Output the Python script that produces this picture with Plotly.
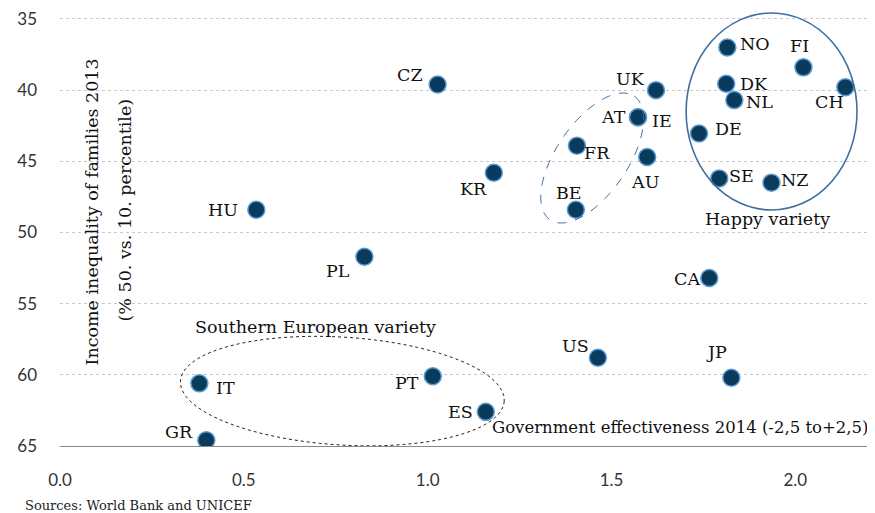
import numpy as np
import plotly.graph_objects as go

# dados
countries = ["NO", "FI", "CH", "DK", "NL", "DE", "SE", "NZ", "UK", "AT", "IE", "AU",
             "FR", "BE", "CZ", "KR", "HU", "PL", "CA", "US", "JP", "IT", "PT", "ES", "GR"]
gov_effectiveness = [1.815, 2.022, 2.136, 1.812, 1.834, 1.738, 1.793, 1.935, 1.621, 1.572,
                     1.572, 1.597, 1.406, 1.403, 1.027, 1.18, 0.534, 0.828, 1.766, 1.463,
                     1.826, 0.379, 1.014, 1.158, 0.398]
income_inequality = [37.0, 38.4, 39.8, 39.55, 40.7, 43.05, 46.2, 46.5, 40.0, 41.9,
                     41.9, 44.7, 43.9, 48.4, 39.6, 45.8, 48.4, 51.7, 53.2, 58.8,
                     60.2, 60.6, 60.1, 62.6, 64.6]
x_ticks = [0.0, 0.5, 1.0, 1.5, 2.0]
y_ticks = [35, 40, 45, 50, 55, 60, 65]

# deslocamento dos rótulos (px, x para a direita, y para cima)
label_offsets = {
    "NO": (28, 3), "FI": (-4, 21), "CH": (-16, -15), "DK": (28, 0), "NL": (25, -2),
    "DE": (29, 5), "SE": (22, 2), "NZ": (23, 3), "UK": (-26, 11), "AT": (-24, 0),
    "IE": (24, -4), "AU": (-2, -25), "FR": (20, -7), "BE": (-7, 17), "CZ": (-28, 9),
    "KR": (-20, -16), "HU": (-33, 0), "PL": (-26, -14), "CA": (-22, -1), "US": (-22, 12),
    "JP": (-15, 26), "IT": (26, -5), "PT": (-26, -7), "ES": (-25, 0), "GR": (-27, 8),
}

SERIF = "DejaVu Serif"
SANS = "Lato"
TXT = dict(family=SERIF, size=17.5, color="#111")

# a página tem 8px de margem no body: a figura começa em (8, 8)
PAGE_OFF = 8
WIN_W, WIN_H = 875, 513

# escala em pixels (da janela) para desenhar as elipses
X0_PX, X_SCALE = 59.5, 367.9
Y0_PX, Y_SCALE = 19, 14.23
PLOT_RIGHT, PLOT_BOTTOM = 870, 446
Y_TOP = 34.3


def dx(px):
    return (px - X0_PX) / X_SCALE


def dy(py):
    return 35 + (py - Y0_PX) / Y_SCALE


def ellipse_path(cx, cy, a, b, theta_deg, n=120):
    t = np.linspace(0, 2 * np.pi, n)
    th = np.radians(theta_deg)
    px = cx + a * np.cos(t) * np.cos(th) - b * np.sin(t) * np.sin(th)
    py = cy + a * np.cos(t) * np.sin(th) + b * np.sin(t) * np.cos(th)
    pts = [f"{dx(x):.4f},{dy(y):.4f}" for x, y in zip(px, py)]
    return "M" + " L".join(pts) + " Z"


fig = go.Figure()
fig.add_trace(go.Scatter(
    x=gov_effectiveness, y=income_inequality, mode="markers",
    marker=dict(size=17, color="#0a3b5c", line=dict(color="#5d9bd3", width=1.5)),
    hoverinfo="skip", showlegend=False,
))

for c, gx, iy in zip(countries, gov_effectiveness, income_inequality):
    ox, oy = label_offsets[c]
    fig.add_annotation(x=gx, y=iy, text=c, showarrow=False, xshift=ox, yshift=oy, font=TXT)

# faixa branca atrás do título do eixo y
fig.add_shape(type="rect", xref="x", yref="y", x0=dx(67), x1=dx(144), y0=Y_TOP, y1=62.5,
              fillcolor="white", line=dict(width=0), layer="below")

# elipses
fig.add_shape(type="circle", xref="x", yref="y", x0=dx(686), x1=dx(857), y0=dy(13), y1=dy(210),
              line=dict(color="#3f6f9f", width=1.6))
fig.add_shape(type="path", path=ellipse_path(592, 158, 74.8, 35.7, -55.7),
              line=dict(color="#3f6f9f", width=1, dash="dash"))
fig.add_shape(type="path", path=ellipse_path(342, 391, 162.3, 53.9, 3.57),
              line=dict(color="#222", width=1, dash="dot"))

fig.add_annotation(x=dx(767), y=dy(219), text="Happy variety", showarrow=False, font=TXT)
fig.add_annotation(x=dx(193), y=dy(327), text="Southern European variety", showarrow=False,
                   xanchor="left", font=TXT)
fig.add_annotation(x=1, xref="paper", xshift=1, y=dy(427), xanchor="right",
                   text="Government effectiveness 2014 (-2,5 to+2,5)", showarrow=False,
                   font=dict(family=SERIF, size=16.5, color="#111"))
fig.add_annotation(x=dx(92), y=dy(212), text="Income inequality of families 2013",
                   showarrow=False, textangle=-90, font=TXT)
fig.add_annotation(x=dx(125), y=dy(210), text="(% 50. vs. 10. percentile)",
                   showarrow=False, textangle=-90, font=TXT)
fig.add_annotation(x=0, xref="paper", xshift=22 - X0_PX, xanchor="left",
                   y=0, yref="paper", yanchor="top", yshift=-50,
                   text="Sources: World Bank and UNICEF", showarrow=False,
                   font=dict(family=SERIF, size=13, color="#222"))

fig.update_xaxes(range=[0, dx(PLOT_RIGHT)], tickvals=x_ticks, automargin=False,
                 ticktext=[f"{v:.1f}" for v in x_ticks], showgrid=False, zeroline=False,
                 showline=True, linecolor="#888", linewidth=1, ticks="",
                 ticklabelstandoff=19, ticklabeloverflow="allow",
                 tickfont=dict(family=SANS, size=17, color="#333"))
fig.update_yaxes(range=[65, Y_TOP], tickvals=y_ticks, showgrid=True, gridcolor="#c8c8c8",
                 griddash="dot", gridwidth=1, zeroline=False, showline=False, ticks="",
                 automargin=False, ticklabelstandoff=22, ticklabeloverflow="allow",
                 tickfont=dict(family=SANS, size=17, color="#333"))

plot_top = Y0_PX - (35 - Y_TOP) * Y_SCALE
fig.update_layout(
    template="plotly_white",
    width=WIN_W - PAGE_OFF, height=WIN_H - PAGE_OFF,
    margin=dict(l=X0_PX - PAGE_OFF, r=WIN_W - PLOT_RIGHT,
                t=max(plot_top - PAGE_OFF, 0), b=WIN_H - PLOT_BOTTOM),
    plot_bgcolor="white", paper_bgcolor="white",
    showlegend=False,
)

fig.write_html("out.html")
